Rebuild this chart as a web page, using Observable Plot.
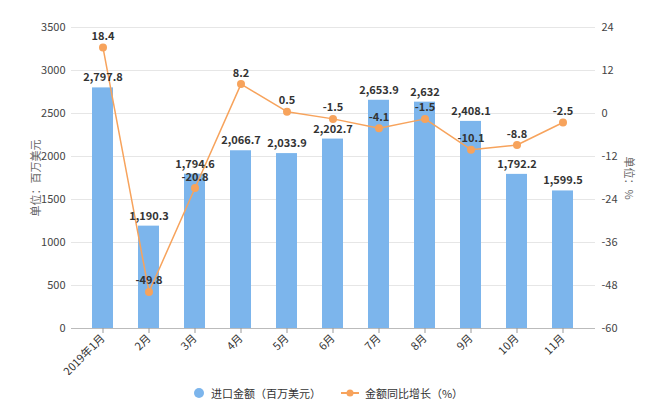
<!DOCTYPE html>
<html>
<head>
<meta charset="utf-8">
<script src="https://cdn.jsdelivr.net/npm/d3@7"></script>
<script src="https://cdn.jsdelivr.net/npm/@observablehq/plot@0.6"></script>
<style>
  body { margin: 0; background: #fff; font-family: "Noto Sans CJK SC", "Noto Sans", sans-serif; }
  #chart { width: 650px; }
  .legend { display: flex; justify-content: center; align-items: center; gap: 20px; font-size: 11px; color: #333; height: 20px; margin-top: 8px; padding-left: 6px; }
  .legend .item { display: flex; align-items: center; gap: 6px; }
</style>
</head>
<body>
<div id="chart"></div>
<script>
const months = ["2019年1月","2月","3月","4月","5月","6月","7月","8月","9月","10月","11月"];
const imports = [2797.8, 1190.3, 1794.6, 2066.7, 2033.9, 2202.7, 2653.9, 2632, 2408.1, 1792.2, 1599.5];
const growth = [18.4, -49.8, -20.8, 8.2, 0.5, -1.5, -4.1, -1.5, -10.1, -8.8, -2.5];
const leftTicks = [0, 500, 1000, 1500, 2000, 2500, 3000, 3500];
const rightTicks = [-60, -48, -36, -24, -12, 0, 12, 24];
const leftTitle = "单位：百万美元";
const rightTitle = "单位：%";

const BLUE = "#7cb5ec";
const ORANGE = "#f7a35c";
const LMAX = 3500, RMIN = -60, RMAX = 24;
const toLeft = p => (p - RMIN) / (RMAX - RMIN) * LMAX;
const fromLeft = v => Math.round(v / LMAX * (RMAX - RMIN) + RMIN);

const data = months.map((m, i) => ({month: m, value: imports[i], growth: growth[i]}));
const font = "Noto Sans CJK SC, Noto Sans, sans-serif";

const plot = Plot.plot({
  width: 650,
  height: 375,
  marginTop: 27,
  marginBottom: 47,
  marginLeft: 71,
  marginRight: 55,
  style: {fontFamily: font, fontSize: "11px", color: "#333", background: "#fff"},
  x: {domain: months, range: [78, 587], paddingInner: 0.55, paddingOuter: 0.275, label: null},
  y: {domain: [0, LMAX], label: null},
  marks: [
    Plot.ruleY(leftTicks.slice(1), {stroke: "#e6e6e6", strokeWidth: 1}),
    Plot.barY(data, {x: "month", y: "value", fill: BLUE}),
    Plot.ruleY([0], {stroke: "#bbb", strokeWidth: 1}),
    Plot.line(data, {x: "month", y: d => toLeft(d.growth), stroke: ORANGE, strokeWidth: 1.5}),
    Plot.dot(data, {x: "month", y: d => toLeft(d.growth), r: 4, fill: ORANGE, stroke: null}),
    Plot.text(data, {x: "month", y: "value", text: d => d3.format(",")(d.value), dy: -10, fontSize: 11, fontWeight: 600, fill: "#333"}),
    Plot.text(data, {x: "month", y: d => toLeft(d.growth), text: d => String(d.growth), dy: -11, fontSize: 11, fontWeight: 600, fill: "#333"}),
    Plot.axisY(leftTicks, {anchor: "left", tickSize: 0, tickPadding: 6, label: null, tickFormat: d => String(d), fill: "#444", fontSize: 11}),
    Plot.axisY(rightTicks.map(toLeft), {anchor: "right", tickSize: 0, tickPadding: 6, label: null, tickFormat: v => String(fromLeft(v)), fill: "#444", fontSize: 11}),
    Plot.axisX({tickRotate: -45, tickSize: 5, tickPadding: 3, label: null, stroke: "#999", fill: "#333", fontSize: 11})
  ]
});
document.getElementById("chart").appendChild(plot);

const svg = d3.select(plot);
svg.append("text")
  .attr("transform", "translate(37,178) rotate(-90)")
  .attr("text-anchor", "middle").attr("dominant-baseline", "middle")
  .attr("fill", "#666").attr("font-size", 11).attr("font-family", font)
  .text(leftTitle);
svg.append("text")
  .attr("transform", "translate(628,178) rotate(90)")
  .attr("text-anchor", "middle").attr("dominant-baseline", "middle")
  .attr("fill", "#666").attr("font-size", 11).attr("font-family", font)
  .text(rightTitle);

const legend = document.createElement("div");
legend.className = "legend";
legend.innerHTML = `
  <div class="item"><svg width="12" height="12"><circle cx="6" cy="6" r="5" fill="${BLUE}"/></svg><span>进口金额（百万美元）</span></div>
  <div class="item"><svg width="18" height="12"><line x1="0" y1="6" x2="18" y2="6" stroke="${ORANGE}" stroke-width="2"/><circle cx="9" cy="6" r="3.5" fill="${ORANGE}"/></svg><span>金额同比增长（%）</span></div>`;
document.getElementById("chart").appendChild(legend);
</script>
</body>
</html>
